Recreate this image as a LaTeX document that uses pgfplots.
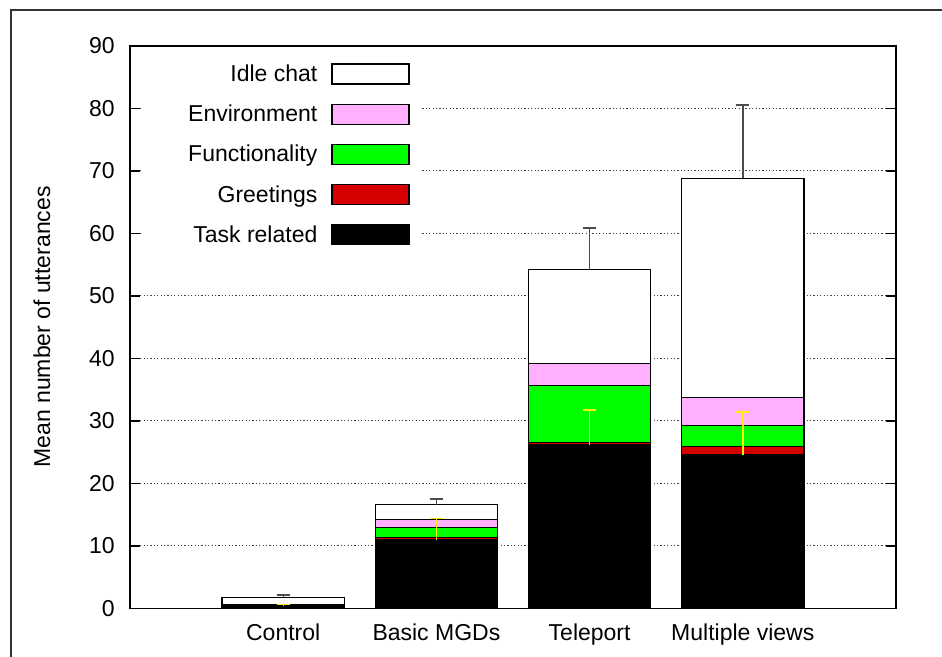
\documentclass[border=0pt]{standalone}
\usepackage{pgfplots}
\pgfplotsset{compat=1.18}
\usepackage{fontspec}
\setmainfont{Liberation Sans}
\definecolor{cTask}{RGB}{0,0,0}
\definecolor{cGreet}{RGB}{214,0,0}
\definecolor{cFunc}{RGB}{0,255,0}
\definecolor{cEnv}{RGB}{255,176,255}
\definecolor{cIdle}{RGB}{255,255,255}
\definecolor{cYel}{RGB}{255,240,0}
\pgfplotsset{leg/.style={legend image code/.code={\draw[##1,draw=black,line width=0.6pt] (0pt,-5.4pt) rectangle (38.5pt,4.6pt);}}}
\begin{document}
\begin{tikzpicture}
\useasboundingbox (0,0) rectangle (471pt,328.5pt);
\draw[line width=0.6pt, black!80] (5.5pt,0pt) -- (5.5pt,323.5pt) -- (471pt,323.5pt);
\node[rotate=90, font=\fontsize{11.5pt}{13pt}\selectfont] at (21pt,165pt) {Mean number of utterances};
\begin{axis}[
  at={(65pt,24.25pt)}, anchor=south west,
  scale only axis, width=383pt, height=281.25pt,
  font=\fontsize{11.5pt}{13pt}\selectfont,
  ybar stacked, bar width=0.8,
  xmin=0, xmax=5, ymin=0, ymax=90,
  xtick={1,2,3,4},
  xticklabels={Control, Basic MGDs, Teleport, Multiple views},
  ytick={0,10,...,90},
  x tick style={draw=none},
  tick align=inside,
  ytick pos=both,
  major tick length=5pt,
  y tick style={line width=0.6pt, black},
  /pgf/number format/assume math mode=true,
  yticklabel style={inner sep=0pt, xshift=-7.5pt},
  xticklabel style={inner sep=0pt, yshift=-7.25pt},
  ymajorgrids,
  major grid style={dash pattern=on 0.6pt off 1.1pt, black!75, line width=0.5pt},
  axis line style={line width=0.6pt, black},
  reverse legend,
  legend cell align=right,
  legend plot pos=right,
  legend style={draw=none, fill=none, at={(rel axis cs:0.3655,0.9698)}, anchor=north east,
    inner sep=0pt, row sep=9.5pt, column sep=7pt,
    nodes={inner sep=0pt, text height=8.25pt, text depth=0pt}},
]
\fill[white] (axis cs:0.08,56.5) rectangle (axis cs:1.906,89.5);
\addplot[fill=cTask, draw=black, line width=0.6pt, leg] coordinates {(1,0.35) (2,10.95) (3,26.15) (4,24.55)};
\addlegendentry{Task related}
\addplot[fill=cGreet, draw=black, line width=0.6pt, leg] coordinates {(1,0.2) (2,0.45) (3,0.45) (4,1.35)};
\addlegendentry{Greetings}
\addplot[fill=cFunc, draw=black, line width=0.6pt, leg] coordinates {(1,0.05) (2,1.55) (3,9.05) (4,3.35)};
\addlegendentry{Functionality}
\addplot[fill=cEnv, draw=black, line width=0.6pt, leg] coordinates {(1,0.05) (2,1.35) (3,3.6) (4,4.55)};
\addlegendentry{Environment}
\addplot[fill=cIdle, draw=black, line width=0.6pt, leg] coordinates {(1,1.15) (2,2.3) (3,14.95) (4,35.0)};
\addlegendentry{Idle chat}
\end{axis}
\begin{axis}[
  at={(65pt,24.25pt)}, anchor=south west,
  scale only axis, width=383pt, height=281.25pt,
  xmin=0, xmax=5, ymin=0, ymax=90,
  hide axis,
]
\addplot[draw=none, mark=none,
  error bars/.cd, y dir=plus, y explicit, error mark=|,
  error bar style={draw=black!70, solid, line width=0.7pt},
  error mark options={draw=black!70, solid, mark size=3.25pt, line width=0.9pt}]
  coordinates {(1,1.8) +- (0,0.4) (2,16.6) +- (0,0.97) (3,54.2) +- (0,6.7) (4,68.8) +- (0,11.8)};
\addplot[draw=none, mark=none,
  error bars/.cd, y dir=plus, y explicit, error mark=|,
  error bar style={draw=cYel, solid, line width=0.7pt},
  error mark options={draw=cYel, solid, mark size=3.25pt, line width=0.9pt}]
  coordinates {(1,0.35) +- (0,0.3) (2,10.95) +- (0,3.45) (3,26.15) +- (0,5.6) (4,24.55) +- (0,6.85)};
\end{axis}
\end{tikzpicture}
\end{document}
